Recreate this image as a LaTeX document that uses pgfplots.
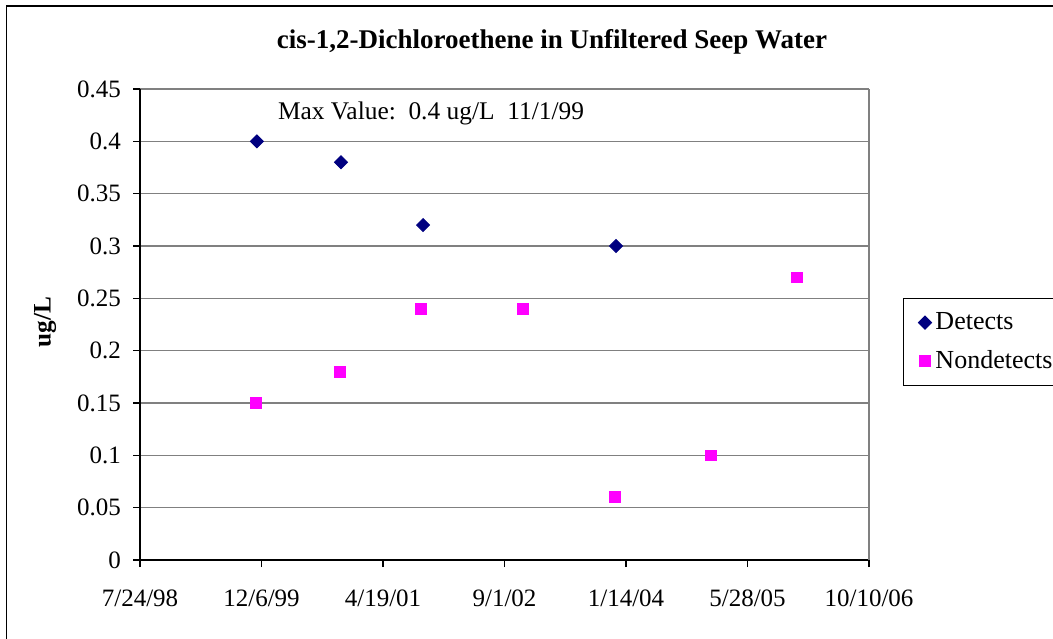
\documentclass[border=0pt]{standalone}
\usepackage{fontspec}
\setmainfont{Liberation Serif}
\usepackage{pgfplots}
\pgfplotsset{compat=1.18}

\definecolor{detnavy}{RGB}{0,0,128}
\definecolor{ndmag}{RGB}{255,0,255}
\definecolor{gridgray}{RGB}{128,128,128}

\begin{document}
\begin{tikzpicture}[x=1pt,y=1pt]
% page is 1053x638 px, at 0.5pt per px
\useasboundingbox (0,0) rectangle (526.5,319);
\draw[black, line width=0.6pt] (3.25,-5) -- (3.25,316) -- (535,316);

\begin{axis}[
    scale only axis,
    width=364.5pt, height=235.5pt,
    at={(70pt,39pt)}, anchor=south west,
    xmin=36000, xmax=39000,
    ymin=0, ymax=0.45,
    scaled x ticks=false, scaled y ticks=false,
    xtick={36000,36500,37000,37500,38000,38500,39000},
    xticklabels={7/24/98,12/6/99,4/19/01,9/1/02,1/14/04,5/28/05,10/10/06},
    ytick={0,0.05,0.1,0.15,0.2,0.25,0.3,0.35,0.4,0.45},
    yticklabels={0,0.05,0.1,0.15,0.2,0.25,0.3,0.35,0.4,0.45},
    ymajorgrids,
    grid style={gridgray, line width=0.6pt},
    axis x line*=bottom, axis y line*=left,
    axis line style={black, line width=0.6pt, -},
    tick align=outside, major tick length=3.5pt,
    tick style={black, line width=0.6pt},
    xtick pos=bottom, ytick pos=left,
    ticklabel style={font=\fontsize{12.5}{14}\selectfont},
    xticklabel style={yshift=-8pt},
    yticklabel style={xshift=-2.5pt},
    /pgf/number format/assume math mode=true,
    clip=false,
    legend style={at={(rel axis cs:1.0466,0.556)}, anchor=north west,
        draw=black, line width=0.5pt, font=\fontsize{13}{15}\selectfont,
        inner xsep=7.5pt, inner ysep=5pt, row sep=5pt},
    legend cell align=left,
]
\draw[gridgray, line width=0.6pt] (rel axis cs:1,0) -- (rel axis cs:1,1);

\addplot[only marks, mark=square*, mark size=2.3pt,
    mark options={rotate=45, fill=detnavy, draw=detnavy}] coordinates {
    (36481,0.40) (36827,0.38) (37165,0.32) (37959,0.30)
};
\addlegendentry{Detects}

\addplot[only marks, mark=square*, mark size=2.7pt,
    mark options={fill=ndmag, draw=ndmag}] coordinates {
    (36477,0.15) (36823,0.18) (37156,0.24) (37576,0.24)
    (37955,0.06) (38350,0.10) (38704,0.27)
};
\addlegendentry{Nondetects}
\end{axis}

\node[font=\bfseries\fontsize{13.5}{15}\selectfont] at (276,298) {cis-1,2-Dichloroethene in Unfiltered Seep Water};
\node[font=\fontsize{12.7}{14}\selectfont] at (215.5,262.5) {Max Value:\ \ 0.4 ug/L\ \ 11/1/99};
\node[font=\bfseries\fontsize{12.6}{14}\selectfont, rotate=90] at (22.5,158) {ug/L};
\end{tikzpicture}
\end{document}
